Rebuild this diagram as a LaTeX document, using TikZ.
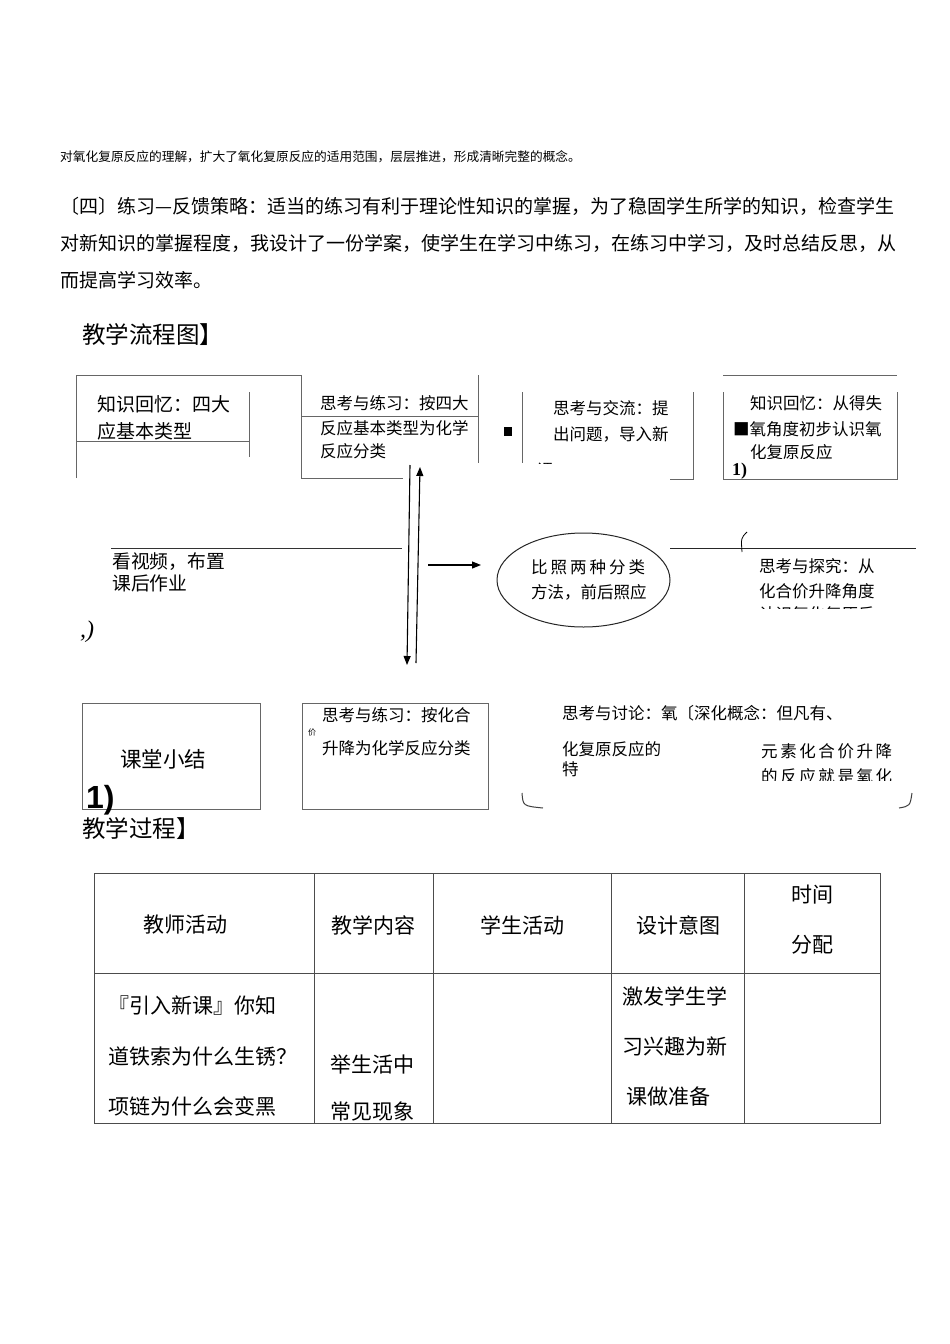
\documentclass[tikz,border=0pt]{standalone}
\usepackage{fontspec}
\setmainfont{Noto Sans CJK SC}
\newfontfamily\lat{Liberation Serif}
\newfontfamily\lsans{Liberation Sans}
\XeTeXlinebreaklocale "zh"
\XeTeXlinebreakskip=0pt plus 4pt
\usetikzlibrary{arrows.meta,shapes.geometric}
\newcommand{\fs}[1]{\fontsize{#1}{#1}\selectfont}
\tikzset{
  tx/.style={inner sep=0pt, anchor=west, font=\fs{16.5}},
  tm/.style={inner sep=0pt, anchor=west, font=\fs{19}},
  tl/.style={inner sep=0pt, anchor=west, font=\fs{21}},
  tc/.style={inner sep=0pt, anchor=center, font=\fs{21}},
  head/.style={inner sep=0pt, anchor=west, font=\fs{23.5}},
  ln/.style={draw=black!60, line width=0.8pt},
  arr/.style={draw=black, line width=1.1pt, -{Triangle[length=9pt,width=7pt]}},
}
\begin{document}
\begin{tikzpicture}[x=1pt,y=-1pt]
\useasboundingbox[fill=white] (0,0) rectangle (950,1344);

% --- top text ---
\node[inner sep=0pt, anchor=west, font=\fs{12.7}] (t0) at (60,157) {对氧化复原反应的理解，扩大了氧化复原反应的适用范围，层层推进，形成清晰完整的概念。};
\node[tm] (p1) at (60,206) {\hbox to 840pt{〔四〕练习—反馈策略：适当的练习有利于理论性知识的掌握，为了稳固学生所学的知识，检查学生}};
\node[tm] (p2) at (60,243) {\hbox to 840pt{对新知识的掌握程度，我设计了一份学案，使学生在学习中练习，在练习中学习，及时总结反思，从}};
\node[tm] (p3) at (60,280) {而提高学习效率。};

\node[head] (h1) at (82,335) {教学流程图】};

% --- top row boxes ---
\draw[ln] (76,478) -- (76,375) -- (301,375) -- (301,478) -- (403,478);
\draw[ln] (76,441) -- (249,441);
\draw[ln] (249,392) -- (249,457);
\node[tm] (a1) at (97,404) {知识回忆：四大};
\node[tm] (a2) at (97,431) {应基本类型};

\draw[ln] (301,416) -- (478,416);
\draw[ln] (478,375) -- (478,463);
\node[tx] (b1) at (320,403) {思考与练习：按四大};
\node[tx] (b2) at (320,428) {反应基本类型为化学};
\begin{scope}
\clip (300,440) rectangle (480,458);
\node[tx] (b3) at (320,451) {反应分类};
\end{scope}

\fill (504,427) rectangle (512,436);

\draw[ln] (522,392) -- (522,463);
\draw[ln] (693,392) -- (693,479) -- (670,479);
\node[tx] (c1) at (553,408) {思考与交流：提};
\node[tx] (c2) at (553,434) {出问题，导入新};
\begin{scope}
\clip (525,455) rectangle (600,463);
\node[tx] (c3) at (537,470) {课};
\end{scope}

\draw[ln] (723,375) -- (897,375);
\draw[ln] (723,392) -- (723,479) -- (897,479) -- (897,392);
\node[tx] (d1) at (750,403) {知识回忆：从得失};
\node[tx] (d2) at (733,429) {■氧角度初步认识氧};
\begin{scope}
\clip (725,440) rectangle (895,458);
\node[tx] (d3) at (750,452) {化复原反应};
\end{scope}
\node[inner sep=0pt, anchor=west, font=\lat\bfseries\fs{18}] (d4) at (732,471) {1)};

% --- middle row ---
\draw[ln, draw=black!80] (111,548) -- (402,548);
\node[inner sep=0pt, anchor=west, font=\fs{18.8}] (m1) at (112,562) {看视频，布置};
\node[inner sep=0pt, anchor=west, font=\fs{18.8}] (m2) at (112,583) {课后作业};
\node[inner sep=0pt, anchor=west, font=\lat\itshape\fs{24}] (m3) at (80,632) {,)};

\coordinate (dnA) at (410,465);
\coordinate (dnB) at (407,665);
\coordinate (upA) at (416,663);
\coordinate (upB) at (420,467);
\draw[arr] (dnA) -- (dnB);
\draw[arr] (upA) -- (upB);

\node[draw=black!85, line width=1pt, ellipse, minimum width=173pt, minimum height=94pt, inner sep=0pt] (ell) at (583.5,580) {};
\node[inner sep=0pt, anchor=west, font=\fs{16.5}] (e1) at (531,567) {\hbox to 114pt{比\hfill 照\hfill 两\hfill 种\hfill 分\hfill 类}};
\node[inner sep=0pt, anchor=west, font=\fs{16.5}] (e2) at (531,592) {\hbox to 114pt{方法，前后照应}};
\coordinate (rA) at (428,565);
\coordinate (rB) at (481,565);
\draw[arr] (rA) -- (rB);

\draw[draw=black!85, line width=0.9pt] (670,548) -- (916,548);
\draw[line width=0.8pt] (747,532) .. controls (741,538) .. (742,552);
\node[tx] (s1) at (759,566) {思考与探究：从};
\node[tx] (s2) at (759,591) {化合价升降角度};
\begin{scope}
\clip (740,600) rectangle (900,608);
\node[tx] (s3) at (759,614) {认识氧化复原反};
\end{scope}

% --- bottom row ---
\draw[ln] (82,703) rectangle (260,809);
\node[inner sep=0pt, anchor=west, font=\fs{21.5}] (k1) at (120,759) {课堂小结};
\node[inner sep=0pt, anchor=west, font=\lsans\bfseries\fs{32}] (k2) at (86,800) {1)};

\draw[ln] (302,703) rectangle (488,809);
\node[tx] (f1) at (322,715) {思考与练习：按化合};
\node[inner sep=0pt, anchor=west, font=\fs{8}] (f2) at (308,732) {价};
\node[tx] (f3) at (322,748) {升降为化学反应分类};

\node[tx] (g1) at (562,713) {思考与讨论：氧〔深化概念：但凡有、};
\node[tx] (g2) at (562,749) {化复原反应的};
\node[tx] (g3) at (562,769) {特};
\node[tx] (g4) at (761,751) {\hbox to 131pt{元\hfill 素\hfill 化\hfill 合\hfill 价\hfill 升\hfill 降}};
\begin{scope}
\clip (740,760) rectangle (900,780);
\node[tx] (g5) at (761,776) {\hbox to 131pt{的\hfill 反\hfill 应\hfill 就\hfill 是\hfill 氧\hfill 化}};
\end{scope}
\draw[draw=black!75, line width=1pt] (522,793) .. controls (523,806) .. (543,808);
\draw[draw=black!75, line width=1pt] (912,793) .. controls (910,806) .. (899,808);

\node[head] (h2) at (82,829) {教学过程】};

% --- table ---
\draw[draw=black!70, line width=0.8pt] (94,873) rectangle (880,1123);
\draw[draw=black!70, line width=0.8pt] (94,973) -- (880,973);
\foreach \xx in {314,433,611,744} {\draw[draw=black!70, line width=0.8pt] (\xx,873) -- (\xx,1123);}
\node[tc] (th1) at (185,925) {教师活动};
\node[tc] (th2) at (373,925) {教学内容};
\node[tc] (th3) at (522,925) {学生活动};
\node[tc] (th4) at (678,925) {设计意图};
\node[tc] (th5) at (812,895) {时间};
\node[tc] (th6) at (812,945) {分配};
\node[tl] (r1) at (108,1006) {『引入新课』你知};
\node[tl] (r2) at (108,1056) {道铁索为什么生锈？};
\node[tl] (r3) at (108,1106) {项链为什么会变黑};
\node[tl] (r4) at (330,1064) {举生活中};
\node[tl] (r5) at (330,1111) {常见现象};
\node[tl] (r6) at (622,996) {激发学生学};
\node[tl] (r7) at (622,1046) {习兴趣为新};
\node[tl] (r8) at (626,1096) {课做准备};
\end{tikzpicture}
\end{document}
